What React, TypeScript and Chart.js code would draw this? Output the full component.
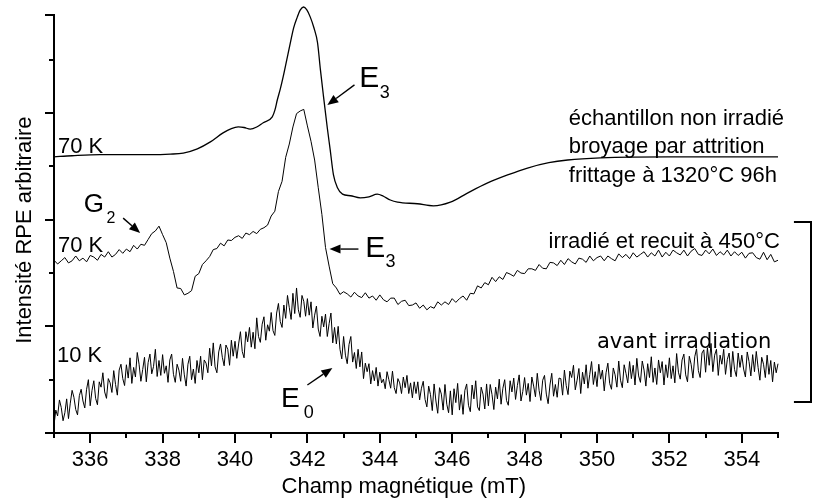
import React, { useEffect, useRef } from "react";
import { Chart, registerables } from "chart.js";

Chart.register(...registerables);

const FONT = '"Liberation Sans", Arial, Helvetica, sans-serif';
const HAND_FONT = '"DejaVu Sans", "Comic Sans MS", sans-serif';

// Axes
const FIELD_MIN = 335;
const FIELD_MAX = 355;
const INTENSITY_MIN = 0;
const INTENSITY_MAX = 78.4;
const Y_TICKS = [0, 10, 20, 30, 40, 50, 60, 70, 78.4];
const Y_MAJOR_TICKS = [0, 20, 40, 60, 78.4];

// Spectrum 1: échantillon non irradié, 70 K (smooth)
const UNIRRADIATED_FIELD = [
  335.0, 335.5, 336.27, 337.0, 337.66, 338.21, 338.57, 338.96, 339.32, 339.67,
  339.9, 340.09, 340.25, 340.42, 340.6, 340.78, 341.03, 341.1, 341.17, 341.25,
  341.33, 341.43, 341.53, 341.62, 341.72, 341.8, 341.89, 341.98, 342.08, 342.18,
  342.28, 342.36, 342.44, 342.55, 342.63, 342.72, 342.83, 342.97, 343.19, 343.46,
  343.7, 343.93, 344.1, 344.29, 344.49, 345.04, 345.48, 345.95, 346.42, 346.98,
  347.53, 348.08, 348.67, 349.19, 350.1, 351.96, 355.0,
];
const UNIRRADIATED_SIGNAL = [
  51.8, 52.0, 52.2, 52.2, 52.2, 52.3, 52.5, 53.3, 54.6, 56.3,
  57.1, 57.4, 57.3, 57.0, 57.4, 58.2, 59.3, 60.5, 62.5, 64.5,
  66.8, 70.0, 73.2, 76.0, 78.0, 79.3, 79.9, 79.4, 78.0, 76.0,
  73.2, 68.1, 63.4, 57.2, 53.1, 48.4, 46.0, 44.8, 44.5, 44.1,
  44.3, 44.8, 44.4, 43.7, 43.3, 43.0, 42.6, 43.3, 45.0, 46.9,
  48.4, 49.7, 50.7, 51.2, 51.6, 51.8, 51.8,
];

// Spectrum 2: irradié et recuit à 450°C, 70 K — field sweep 335 -> 355 mT, one sample every 0.1 mT
const ANNEALED_STEP = 0.1;
const ANNEALED_SIGNAL = [
  32.4, 31.7, 32.3, 32.9, 31.9, 32.3, 33.2, 32.3, 32.8, 32.1,
  33.3, 33.0, 32.4, 33.5, 33.0, 34.0, 33.0, 33.5, 34.4, 33.7,
  34.5, 34.0, 35.2, 34.5, 35.4, 35.2, 36.3, 37.4, 37.9, 38.8,
  37.2, 35.7, 32.8, 30.3, 27.2, 27.1, 25.9, 26.2, 26.7, 29.4,
  29.9, 31.6, 32.3, 33.1, 34.4, 34.6, 35.6, 35.1, 36.2, 36.1,
  36.7, 37.0, 36.5, 37.5, 37.2, 37.8, 37.4, 38.2, 38.5, 39.0,
  40.7, 41.6, 45.3, 47.2, 51.7, 54.2, 57.4, 59.9, 60.4, 60.7,
  57.6, 54.7, 51.2, 46.0, 41.0, 34.8, 31.3, 28.0, 27.2, 26.0,
  26.5, 26.1, 25.5, 26.4, 25.7, 25.4, 26.3, 25.3, 25.7, 24.9,
  25.9, 25.0, 24.6, 25.3, 25.3, 24.1, 24.7, 24.9, 23.9, 24.0,
  24.4, 23.4, 24.0, 23.1, 23.7, 23.4, 24.6, 24.0, 24.6, 24.1,
  25.2, 24.5, 25.2, 25.7, 24.9, 26.2, 26.1, 27.6, 27.2, 28.2,
  27.8, 29.2, 28.4, 29.3, 28.8, 30.1, 29.8, 29.4, 30.5, 30.0,
  29.9, 30.8, 30.8, 30.5, 31.6, 30.9, 30.8, 32.0, 31.9, 31.4,
  32.4, 31.6, 32.7, 32.1, 31.7, 32.8, 32.6, 32.0, 33.2, 32.3,
  32.9, 33.2, 32.3, 33.2, 32.7, 32.3, 33.6, 32.9, 33.5, 32.7,
  33.8, 33.0, 33.5, 34.0, 33.0, 33.8, 33.2, 34.3, 33.0, 33.9,
  33.2, 34.3, 33.8, 33.4, 34.3, 33.2, 34.1, 34.6, 33.5, 33.3,
  34.3, 33.6, 34.5, 33.3, 34.0, 33.4, 34.3, 33.2, 34.0, 33.3,
  33.9, 32.8, 33.7, 33.8, 32.9, 32.6, 33.9, 32.5, 33.5, 32.1,
  32.4,
];

// Spectrum 3: avant irradiation, 10 K — field sweep 335 -> 355 mT, one sample every 0.05 mT
const RAW_STEP = 0.05;
const RAW_SIGNAL = [
  1.5, 4.3, 3.2, 6.2, 4.8, 2.3, 3.8, 6.4, 2.7, 5.6, 8.0, 6.7, 4.4, 3.4, 7.0, 8.2, 6.0, 4.7, 8.2, 10.0,
  5.1, 8.0, 9.8, 6.5, 5.3, 9.6, 8.6, 11.3, 7.7, 6.5, 10.2, 9.4, 7.6, 11.7, 9.1, 7.1, 11.8, 12.9, 10.2, 8.9,
  12.8, 10.3, 14.1, 9.3, 12.3, 10.5, 15.1, 12.9, 9.7, 11.9, 14.2, 9.6, 13.2, 14.8, 11.1, 12.5, 15.7, 10.6, 13.6, 10.8,
  14.7, 11.2, 12.6, 9.5, 13.7, 14.8, 11.0, 9.5, 12.9, 11.8, 9.7, 14.0, 10.9, 8.8, 12.9, 14.4, 10.0, 12.0, 9.3, 13.6,
  11.3, 14.4, 10.0, 13.7, 13.1, 11.3, 15.9, 12.6, 16.9, 12.4, 11.3, 15.2, 16.7, 14.2, 12.6, 16.5, 15.7, 12.7, 17.4, 14.4,
  17.2, 14.0, 16.7, 19.0, 15.3, 14.1, 19.0, 17.1, 19.8, 16.1, 18.9, 15.8, 21.6, 18.1, 17.0, 20.4, 21.8, 17.4, 20.3, 19.1,
  22.6, 19.2, 18.3, 22.5, 24.3, 20.9, 19.8, 24.0, 21.5, 25.8, 23.5, 21.3, 26.2, 22.4, 27.2, 23.1, 21.7, 25.8, 24.7, 21.9,
  25.2, 22.1, 24.6, 19.7, 22.1, 23.8, 19.5, 18.1, 21.9, 19.9, 22.3, 18.1, 20.5, 22.5, 16.9, 19.8, 16.7, 20.0, 15.7, 13.9,
  18.1, 14.6, 13.0, 16.6, 18.1, 13.3, 15.1, 12.1, 15.7, 12.4, 15.2, 10.2, 13.1, 11.5, 13.0, 9.2, 11.7, 9.8, 12.3, 8.8,
  11.4, 9.4, 10.1, 8.3, 11.5, 10.0, 8.4, 11.6, 8.5, 7.4, 10.2, 9.4, 7.4, 10.5, 8.5, 10.8, 7.4, 9.4, 6.6, 9.6,
  7.4, 9.6, 6.2, 8.4, 9.7, 6.3, 4.9, 8.8, 7.2, 4.2, 9.2, 6.0, 3.7, 8.5, 7.3, 4.3, 9.1, 5.4, 3.8, 7.9,
  3.4, 8.3, 5.7, 9.3, 4.3, 7.2, 3.5, 8.0, 9.2, 5.2, 4.0, 9.0, 6.4, 9.8, 4.9, 4.2, 8.6, 7.3, 4.5, 9.2,
  5.1, 9.1, 7.2, 4.4, 8.6, 6.4, 10.1, 5.4, 8.4, 10.0, 6.1, 5.2, 9.8, 7.7, 10.3, 6.3, 8.9, 10.9, 6.0, 7.8,
  10.4, 7.1, 9.3, 5.9, 10.5, 8.8, 6.8, 11.2, 8.0, 6.1, 9.9, 10.8, 7.3, 5.5, 9.0, 11.2, 6.9, 9.1, 6.7, 10.3,
  10.2, 7.1, 11.8, 8.9, 7.2, 11.6, 10.4, 12.7, 8.1, 9.9, 12.1, 7.4, 11.4, 9.2, 12.8, 8.4, 11.0, 13.4, 9.1, 11.5,
  8.7, 12.9, 10.1, 11.8, 7.9, 11.3, 13.1, 9.3, 8.2, 12.2, 10.9, 8.6, 13.5, 9.9, 8.5, 12.8, 11.2, 9.4, 13.4, 10.2,
  12.7, 9.0, 14.0, 10.7, 9.5, 13.5, 11.8, 8.8, 13.0, 10.4, 14.3, 9.5, 12.2, 9.1, 13.7, 11.3, 13.4, 9.0, 12.8, 10.4,
  14.1, 10.2, 12.6, 9.4, 14.9, 11.4, 10.1, 13.7, 14.8, 10.9, 9.6, 14.4, 12.9, 10.3, 14.3, 15.8, 11.7, 10.4, 15.0, 15.6,
  11.4, 16.0, 12.7, 16.8, 11.5, 14.6, 15.7, 10.8, 14.6, 12.9, 15.7, 11.0, 13.8, 15.0, 10.5, 15.3, 11.9, 10.6, 15.0, 12.3,
  14.6, 12.0, 10.5, 15.2, 13.4, 10.7, 14.7, 11.5, 15.3, 12.3, 9.9, 14.2, 12.9, 10.4, 14.6, 11.0, 13.6, 9.6, 13.3, 11.3,
  13.0,
];

const sweepField = (step: number, count: number) =>
  Array.from({ length: count }, (_, i) => +(FIELD_MIN + i * step).toFixed(2));
const ANNEALED_FIELD = sweepField(ANNEALED_STEP, ANNEALED_SIGNAL.length);
const RAW_FIELD = sweepField(RAW_STEP, RAW_SIGNAL.length);

// Annotations (anchored in data coordinates)
const TEXT_LABELS = [
  { text: "70 K", x: 335.11, y: 52.5, size: 22, font: FONT },
  { text: "70 K", x: 335.11, y: 34.0, size: 22, font: FONT },
  { text: "10 K", x: 335.08, y: 13.3, size: 22, font: FONT },
  { text: "échantillon non irradié", x: 349.22, y: 57.8, size: 22, font: FONT },
  { text: "broyage par attrition", x: 349.22, y: 52.5, size: 22, font: FONT },
  { text: "frittage à 1320°C 96h", x: 349.22, y: 47.1, size: 22, font: FONT },
  { text: "irradié et recuit à 450°C", x: 348.66, y: 34.7, size: 22, font: FONT },
  { text: "avant irradiation", x: 350.0, y: 15.9, size: 21, font: HAND_FONT },
  { text: "G", x: 335.82, y: 41.5, size: 26, font: FONT },
  { text: "2", x: 336.45, y: 39.4, size: 16, font: FONT },
  { text: "E", x: 343.43, y: 64.9, size: 30, font: FONT },
  { text: "3", x: 344.0, y: 62.85, size: 18, font: FONT },
  { text: "E", x: 343.6, y: 33.0, size: 30, font: FONT },
  { text: "3", x: 344.16, y: 31.1, size: 18, font: FONT },
  { text: "E", x: 341.27, y: 4.9, size: 28, font: FONT },
  { text: "0", x: 341.9, y: 2.8, size: 18, font: FONT },
];
const ARROWS = [
  { from: [336.91, 40.3], to: [337.38, 37.5] },
  { from: [343.3, 65.3], to: [342.55, 61.5] },
  { from: [343.41, 34.5], to: [342.61, 34.5] },
  { from: [342.0, 9.0], to: [342.69, 12.2] },
];
const BRACKET_X = [355.44, 355.91];
const BRACKET_Y = [39.6, 5.8];

const decorPlugin = {
  id: "decor",
  afterDraw(chart: any) {
    const { ctx, chartArea: ca, scales } = chart;
    const xs = scales.x;
    const ys = scales.y;
    const X = (v: number) => xs.getPixelForValue(v);
    const Y = (v: number) => ys.getPixelForValue(v);
    ctx.save();
    ctx.strokeStyle = "#000";
    ctx.fillStyle = "#000";
    ctx.lineWidth = 2;
    ctx.lineCap = "butt";
    // y ticks (outward)
    ys.ticks.forEach((t: any) => {
      const p = Math.round(Y(t.value));
      const len = Y_MAJOR_TICKS.includes(t.value) ? 9 : 5;
      ctx.beginPath();
      ctx.moveTo(ca.left - len, p);
      ctx.lineTo(ca.left + 1, p);
      ctx.stroke();
    });
    // x ticks (outward)
    xs.ticks.forEach((t: any) => {
      const p = Math.round(X(t.value));
      const len = t.value % 2 === 0 ? 10 : 5;
      ctx.beginPath();
      ctx.moveTo(p, ca.bottom - 1);
      ctx.lineTo(p, ca.bottom + len);
      ctx.stroke();
    });
    // texts
    ctx.textAlign = "left";
    ctx.textBaseline = "alphabetic";
    TEXT_LABELS.forEach((l) => {
      ctx.font = `${l.size}px ${l.font}`;
      ctx.fillText(l.text, X(l.x), Y(l.y));
    });
    // arrows
    ARROWS.forEach((a) => {
      const x0 = X(a.from[0]);
      const y0 = Y(a.from[1]);
      const x1 = X(a.to[0]);
      const y1 = Y(a.to[1]);
      const ang = Math.atan2(y1 - y0, x1 - x0);
      const hl = 11;
      const hw = 4.5;
      const bx = x1 - hl * Math.cos(ang);
      const by = y1 - hl * Math.sin(ang);
      ctx.lineWidth = 1.4;
      ctx.beginPath();
      ctx.moveTo(x0, y0);
      ctx.lineTo(bx, by);
      ctx.stroke();
      ctx.beginPath();
      ctx.moveTo(x1, y1);
      ctx.lineTo(bx + hw * Math.sin(ang), by - hw * Math.cos(ang));
      ctx.lineTo(bx - hw * Math.sin(ang), by + hw * Math.cos(ang));
      ctx.closePath();
      ctx.fill();
    });
    // bracket
    ctx.lineWidth = 2;
    ctx.beginPath();
    ctx.moveTo(X(BRACKET_X[0]), Math.round(Y(BRACKET_Y[0])));
    ctx.lineTo(Math.round(X(BRACKET_X[1])), Math.round(Y(BRACKET_Y[0])));
    ctx.lineTo(Math.round(X(BRACKET_X[1])), Math.round(Y(BRACKET_Y[1])));
    ctx.lineTo(X(BRACKET_X[0]), Math.round(Y(BRACKET_Y[1])));
    ctx.stroke();
    ctx.restore();
  },
};

export default function App() {
  const ref = useRef<HTMLCanvasElement>(null);
  useEffect(() => {
    const canvas = ref.current;
    if (!canvas) return;
    const chart = new Chart(canvas, {
      type: "line",
      data: {
        datasets: [
          {
            label: "échantillon non irradié (70 K)",
            data: UNIRRADIATED_FIELD.map((x, i) => ({ x, y: UNIRRADIATED_SIGNAL[i] })),
            borderColor: "#000",
            borderWidth: 1.3,
            pointRadius: 0,
            cubicInterpolationMode: "monotone",
            clip: false,
          },
          {
            label: "irradié et recuit à 450°C (70 K)",
            data: ANNEALED_FIELD.map((x, i) => ({ x, y: ANNEALED_SIGNAL[i] })),
            borderColor: "#000",
            borderWidth: 1,
            pointRadius: 0,
            tension: 0,
            clip: false,
          },
          {
            label: "avant irradiation (10 K)",
            data: RAW_FIELD.map((x, i) => ({ x, y: RAW_SIGNAL[i] })),
            borderColor: "#000",
            borderWidth: 1,
            pointRadius: 0,
            tension: 0,
            clip: false,
          },
        ],
      },
      options: {
        responsive: false,
        animation: false,
        devicePixelRatio: 1,
        events: [],
        layout: { padding: { top: 15, right: 35, left: 0, bottom: 0 } },
        plugins: { legend: { display: false }, tooltip: { enabled: false } },
        scales: {
          x: {
            type: "linear",
            min: FIELD_MIN,
            max: FIELD_MAX,
            ticks: {
              stepSize: 1,
              autoSkip: false,
              maxRotation: 0,
              padding: 14,
              color: "#000",
              font: { family: FONT, size: 22 },
              callback: (v: any) => (Number(v) % 2 === 0 ? String(v) : ""),
            },
            grid: { display: true, drawOnChartArea: false, drawTicks: false },
            border: { display: true, color: "#000", width: 2 },
            title: {
              display: true,
              text: "Champ magnétique (mT)\u00a0\u00a0\u00a0\u00a0",
              color: "#000",
              font: { family: FONT, size: 22 },
              padding: { top: 0, bottom: 1 },
            },
            afterFit: (s: any) => {
              s.height = 68;
            },
          },
          y: {
            type: "linear",
            min: INTENSITY_MIN,
            max: INTENSITY_MAX,
            afterBuildTicks: (s: any) => {
              s.ticks = Y_TICKS.map((v) => ({ value: v }));
            },
            ticks: { display: false },
            grid: { display: true, drawOnChartArea: false, drawTicks: false },
            border: { display: true, color: "#000", width: 2 },
            title: {
              display: true,
              text: "Intensité RPE arbitraire\u00a0\u00a0",
              color: "#000",
              font: { family: FONT, size: 22 },
              padding: { top: 12, bottom: 0 },
            },
            afterFit: (s: any) => {
              s.width = 54;
            },
          },
        },
      } as any,
      plugins: [decorPlugin],
    });
    return () => chart.destroy();
  }, []);
  return (
    <div style={{ position: "fixed", left: 0, top: 0, width: 813, height: 501, background: "#fff" }}>
      <canvas ref={ref} width={813} height={501} style={{ display: "block" }} />
    </div>
  );
}
